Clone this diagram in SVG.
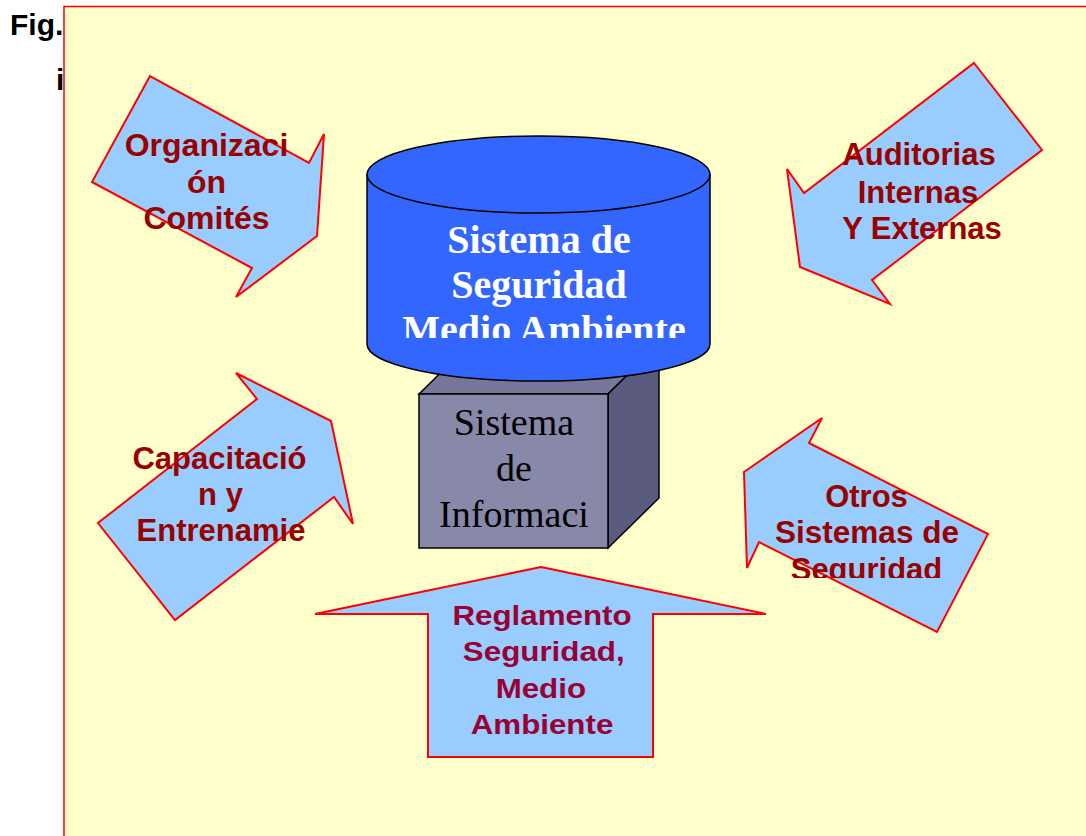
<svg xmlns="http://www.w3.org/2000/svg" width="1086" height="836" viewBox="0 0 1086 836">
<style>
.arrow{fill:#99CCFF;stroke:#FF0000;stroke-width:2;stroke-linejoin:miter}
.lbl{font-family:"Liberation Sans",Arial,sans-serif;font-weight:bold;font-size:31px;fill:#990000;text-anchor:middle}
.lbl2{font-family:"Liberation Sans",Arial,sans-serif;font-weight:bold;font-size:27px;fill:#990033;text-anchor:middle}
.cyl{fill:#3366FF;stroke:#000;stroke-width:1.5}
.cyltxt{font-family:"Liberation Serif","Times New Roman",serif;font-weight:bold;font-size:40px;fill:#FFFFFF;text-anchor:middle}
.boxtxt{font-family:"Liberation Serif","Times New Roman",serif;font-size:38px;fill:#000000;text-anchor:middle}
.fig{font-family:"Liberation Sans",Arial,sans-serif;font-weight:bold;font-size:30px;fill:#000}
</style>
<defs>
<clipPath id="clipCyl"><rect x="360" y="200" width="360" height="138"/></clipPath>
<clipPath id="clipAud"><rect x="780" y="120" width="260" height="119"/></clipPath>
<clipPath id="clipOtros"><rect x="740" y="470" width="260" height="108"/></clipPath>
</defs>
<rect x="0" y="0" width="1086" height="836" fill="#FFFFFF"/>
<text class="fig" x="10" y="35">Fig.</text>
<text class="fig" x="56" y="90">i</text>
<rect id="background" x="64" y="6.5" width="1100" height="900" fill="#FFFFCC" stroke="#FF0000" stroke-width="1.5"/>
<g id="connectors"/>
<g id="arrow-organizacion">
<polygon class="arrow" points="150,76 92,182 252,268 236,297 317,236 324,134 309,163"/>
<text class="lbl" font-size="32" x="206.5" y="156" style="font-size:32px">Organizaci</text>
<text class="lbl" x="206.5" y="193" style="font-size:32px">ón</text>
<text class="lbl" x="206.5" y="229" style="font-size:32px">Comités</text>
</g>
<g id="arrow-auditorias">
<polygon class="arrow" points="974,63 1042,150 872,280 890,304 800,267 787,169 804,193"/>
<g clip-path="url(#clipAud)">
<text class="lbl" x="919" y="165">Auditorias</text>
<text class="lbl" x="918" y="203">Internas</text>
<text class="lbl" x="922" y="239">Y Externas</text>
</g>
</g>
<g id="arrow-capacitacion">
<polygon class="arrow" points="236,373 331,421 353,524 334,497 175,620 98,523 257,399"/>
<text class="lbl" x="219.5" y="469">Capacitació</text>
<text class="lbl" x="220.5" y="505">n y</text>
<text class="lbl" x="221" y="541">Entrenamie</text>
</g>
<g id="arrow-otros">
<polygon class="arrow" points="822,418 809,443 988,534 937,632 759,542 747,568 744,472"/>
<g clip-path="url(#clipOtros)">
<text class="lbl" x="866.5" y="507">Otros</text>
<text class="lbl" x="867" y="543" style="font-size:31.5px">Sistemas de</text>
<text class="lbl" x="866.5" y="580">Seguridad</text>
</g>
</g>
<g id="arrow-reglamento">
<polygon class="arrow" points="541,567 766,614 653,614 653,757 428,757 428,614 315,614"/>
<g transform="translate(542,0) scale(1.16,1)">
<text class="lbl2" x="0" y="625">Reglamento</text>
<text class="lbl2" x="1.5" y="661">Seguridad,</text>
<text class="lbl2" x="-1" y="698">Medio</text>
<text class="lbl2" x="0" y="734">Ambiente</text>
</g>
</g>
<g id="box-informacion">
<polygon points="419,394 470,344 659,344 608,394" fill="#777799" stroke="#000" stroke-width="1.5"/>
<polygon points="608,394 659,344 659,498 608,548" fill="#5B5B80" stroke="#000" stroke-width="1.5"/>
<rect x="419" y="394" width="189" height="154" fill="#8888A8" stroke="#000" stroke-width="1.5"/>
<text class="boxtxt" x="514" y="435">Sistema</text>
<text class="boxtxt" x="514" y="481">de</text>
<text class="boxtxt" x="514" y="527">Informaci</text>
</g>
<g id="cylinder-seguridad">
<path class="cyl" d="M367,175 L367,344 A171.5,37 0 0 0 710,344 L710,175 Z"/>
<ellipse class="cyl" cx="538.5" cy="174.5" rx="171.5" ry="38.5"/>
<g clip-path="url(#clipCyl)">
<text class="cyltxt" x="539" y="253">Sistema de</text>
<text class="cyltxt" x="539" y="298">Seguridad</text>
<text class="cyltxt" x="544" y="343">Medio Ambiente</text>
</g>
</g>
</svg>
